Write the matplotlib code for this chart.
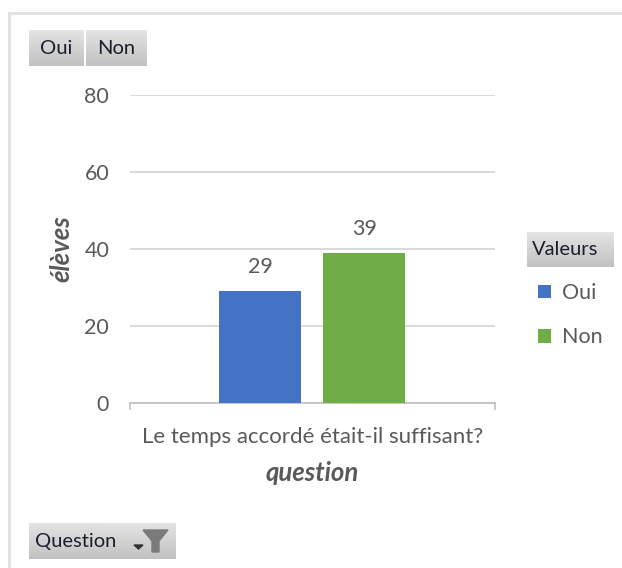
import numpy as np
import matplotlib
matplotlib.use('Agg')
import matplotlib.pyplot as plt

W, H = 622, 568

categories = ['Oui', 'Non']
values = [29, 39]
colors = ['#4472c4', '#70ad47']
question = 'Le temps accordé était-il suffisant?'
yticks = [0, 20, 40, 60, 80]

plt.rcParams['font.family'] = ['Lato', 'DejaVu Sans']
grey = '#595959'

fig = plt.figure(figsize=(W / 100, H / 100), dpi=100, facecolor='white')

# zone du graphique, en pixels de l'image
ax = fig.add_axes([130 / W, 1 - 403 / H, 365 / W, 308 / H])
offsets = [-0.143, 0.142]
bars = [ax.bar(o, v, width=0.225, color=c, label=n, zorder=3)
        for o, v, c, n in zip(offsets, values, colors, categories)]
for b, v in zip(bars, values):
    ax.bar_label(b, labels=[str(v)], padding=10, fontsize=15.5, color=grey)

ax.set_xlim(-0.5, 0.5)
ax.set_ylim(0, 80)
ax.set_yticks(yticks)
ax.set_xticks([0])
ax.set_xticklabels([question])
ax.tick_params(axis='y', length=0, labelsize=15.5, labelcolor=grey, pad=15)
ax.tick_params(axis='x', length=0, labelsize=16, labelcolor=grey, pad=17)
ax.grid(axis='y', color='#d9d9d9', linewidth=1.4, zorder=0)
ax.set_axisbelow(True)
for s in ['top', 'right', 'left']:
    ax.spines[s].set_visible(False)
ax.spines['bottom'].set_color('#bfbfbf')
ax.spines['bottom'].set_linewidth(1.2)
for x in [-0.5, 0.5]:
    ax.plot([x, x], [0, -1.6], color='#bfbfbf', lw=1.2, clip_on=False)
ax.set_ylabel('élèves', fontsize=18.5, fontweight='bold', fontstyle='italic',
              color=grey, labelpad=8)
ax.set_xlabel('question', fontsize=18.5, fontweight='bold', fontstyle='italic',
              color=grey, labelpad=10.5)

leg = fig.legend(handles=[b[0] for b in bars], labels=categories, frameon=False,
                 loc='upper left', bbox_to_anchor=(538 / W, 1 - 283 / H),
                 fontsize=15.5, labelcolor=grey, handlelength=0.6, handleheight=0.6,
                 handletextpad=0.5, labelspacing=1.13, borderpad=0, borderaxespad=0)

# surcouche en pixels : cadre et boutons du tableau croisé
ov = fig.add_axes([0, 0, 1, 1], zorder=5)
ov.set_xlim(0, W)
ov.set_ylim(H, 0)
ov.axis('off')
ov.patch.set_alpha(0)

ov.plot([W, 9, 9], [13, 13, H], color='#e2e2e2', lw=2.2, solid_joinstyle='miter')

grad = np.linspace(0.89, 0.76, 32).reshape(-1, 1)


def button(x0, y0, x1, y1, label, tx=None):
    ov.imshow(grad, extent=[x0, x1, y1, y0], cmap='gray', vmin=0, vmax=1,
              aspect='auto', zorder=1)
    ov.text(x0 + 11 if tx is None else tx, (y0 + y1) / 2, label, fontsize=14.5,
            color='#1a1f2b', va='center', ha='left', zorder=2)


button(29, 30, 84, 66, 'Oui')
button(86, 30, 147, 66, 'Non')
button(527, 232, 614, 267, 'Valeurs', tx=532)
button(29, 523, 176, 559, 'Question', tx=35)
ov.set_xlim(0, W)
ov.set_ylim(H, 0)

# entonnoir du filtre
ov.fill([143, 168, 159, 159, 152, 152], [530, 530, 541, 552, 552, 541],
        color='#7a7a7a', zorder=3)
ov.fill([134, 143, 138.5], [545, 545, 549], color='#333333', zorder=3)

fig.savefig('out.png', dpi=100)
